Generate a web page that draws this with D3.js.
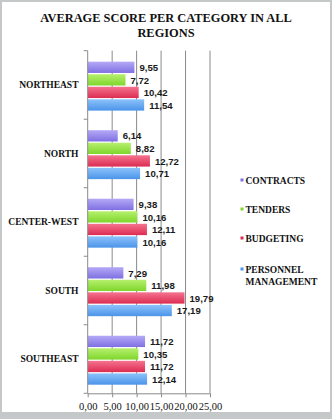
<!DOCTYPE html>
<html><head><meta charset="utf-8">
<script src="https://cdn.jsdelivr.net/npm/d3@7"></script>
<style>html,body{margin:0;padding:0;background:#fff;}svg{display:block;}</style>
</head><body>
<script>
const regions = ["NORTHEAST","NORTH","CENTER-WEST","SOUTH","SOUTHEAST"];
const seriesNames = ["CONTRACTS","TENDERS","BUDGETING","PERSONNEL MANAGEMENT"];
const contracts = [9.55, 6.14, 9.38, 7.29, 11.72];
const tenders = [7.72, 8.82, 10.16, 11.98, 10.35];
const budgeting = [10.42, 12.72, 12.11, 19.79, 11.72];
const personnel = [11.54, 10.71, 10.16, 17.19, 12.14];
const xTicks = [0, 5, 10, 15, 20, 25];
const colors = [["#b4a9f7","#7f70e2"],["#b6f06e","#7fd62c"],["#f5738e","#dc2c52"],["#8cc2fa","#4b94ea"]];

const values = [contracts, tenders, budgeting, personnel];
const W = 332, H = 419;
const svg = d3.select("body").append("svg").attr("width", W).attr("height", H);

const defs = svg.append("defs");
colors.forEach((c,i)=>{
  const g = defs.append("linearGradient").attr("id","g"+i).attr("x1",0).attr("y1",0).attr("x2",0).attr("y2",1);
  g.append("stop").attr("offset","0%").attr("stop-color",c[0]);
  g.append("stop").attr("offset","100%").attr("stop-color",c[1]);
});

// frame
svg.append("rect").attr("x",0).attr("y",0).attr("width",W).attr("height",H).attr("fill","#c4c8c8");
svg.append("rect").attr("x",2).attr("y",2).attr("width",W-4).attr("height",410).attr("fill","#fff");

// title
const title = svg.append("text").attr("x",166).attr("text-anchor","middle")
  .style("font-family","'Liberation Serif', serif").style("font-weight","bold").style("font-size","12.4px").attr("fill","#111");
title.append("tspan").attr("x",166).attr("y",21.5).text("AVERAGE SCORE PER CATEGORY IN ALL");
title.append("tspan").attr("x",166).attr("y",36.5).text("REGIONS");

const pLeft = 87.7, pRight = 210, pTop = 50.7, pBottom = 393.3;
const x = d3.scaleLinear().domain([0,25]).range([pLeft,pRight]);
const y0 = d3.scaleBand().domain(regions).range([pTop,pBottom]).padding(0);
const y1 = d3.scaleBand().domain(seriesNames).range([0,y0.bandwidth()]).paddingInner(0.1).paddingOuter(0.78).align(0.56);

// gridlines
svg.append("g").selectAll("line").data(xTicks.slice(1)).join("line")
  .attr("x1",d=>x(d)).attr("x2",d=>x(d)).attr("y1",pTop).attr("y2",pBottom)
  .attr("stroke","#8a8a8a").attr("stroke-width",1);

// bars
const rows = [];
regions.forEach((r,ri)=>seriesNames.forEach((s,si)=>rows.push({r,s,si,v:values[si][ri]})));
svg.append("g").selectAll("rect").data(rows).join("rect")
  .attr("x",x(0)).attr("y",d=>y0(d.r)+y1(d.s)).attr("width",d=>x(d.v)-x(0)).attr("height",y1.bandwidth())
  .attr("fill",d=>"url(#g"+d.si+")");

// y axis line + category boundary ticks
svg.append("line").attr("x1",pLeft).attr("x2",pLeft).attr("y1",pTop).attr("y2",pBottom).attr("stroke","#8a8a8a");
const bounds = regions.map(r=>y0(r)).concat([pBottom]);
svg.append("g").selectAll("line").data(bounds).join("line")
  .attr("x1",pLeft-4).attr("x2",pLeft).attr("y1",d=>d).attr("y2",d=>d).attr("stroke","#8a8a8a");

const fmt = v => d3.format(".2f")(v).replace(".",",");
const gx = svg.append("g").attr("transform",`translate(0,${pBottom})`)
  .call(d3.axisBottom(x).tickValues(xTicks).tickSize(4).tickPadding(5).tickFormat(fmt));
gx.select(".domain").attr("stroke","#8a8a8a").attr("d",`M${pLeft},0.5H${pRight}`);
gx.selectAll(".tick line").attr("stroke","#8a8a8a");
gx.selectAll(".tick text").style("font-family","'Liberation Serif', serif").style("font-size","10.5px").attr("fill","#111");

// category labels
svg.append("g").selectAll("text").data(regions).join("text")
  .attr("x",78.5).attr("y",d=>y0(d)+y0.bandwidth()/2).attr("dy","0.35em").attr("text-anchor","end")
  .style("font-family","'Liberation Serif', serif").style("font-weight","bold").style("font-size","9.5px").attr("fill","#111")
  .text(d=>d);

// value labels
svg.append("g").selectAll("text").data(rows).join("text")
  .attr("x",d=>x(d.v)+5)
  .attr("y",d=>y0(d.r)+y1(d.s)+y1.bandwidth()/2)
  .attr("dy","0.38em")
  .style("font-family","'Liberation Sans', Arial, sans-serif").style("font-weight","bold").style("font-size","9.6px").attr("fill","#1a1a1a")
  .text(d=>fmt(d.v));

// legend
const legY = [181, 210, 239, 270];
const leg = svg.append("g").selectAll("g").data(seriesNames).join("g");
leg.append("rect").attr("x",240.5).attr("y",(d,i)=>legY[i]-2.5).attr("width",3).attr("height",3).attr("fill",(d,i)=>colors[i][1]);
leg.each(function(d,i){
  const t = d3.select(this).append("text").attr("x",245.5).attr("y",legY[i]).attr("dy","0.35em")
    .style("font-family","'Liberation Serif', serif").style("font-weight","bold").style("font-size","9.5px").attr("fill","#111");
  const words = d.split(" ");
  if (words.length > 1) {
    t.append("tspan").attr("x",245.5).text(words[0]);
    t.append("tspan").attr("x",245.5).attr("dy","1.23em").text(words[1]);
  } else t.text(d);
});
</script>
</body></html>
